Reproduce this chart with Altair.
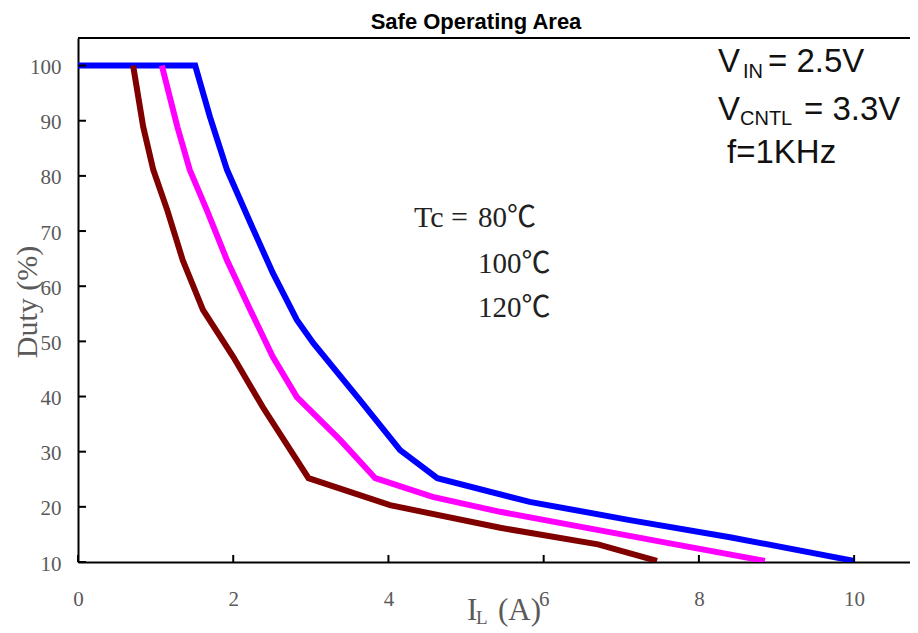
import altair as alt
import pandas as pd

# ---- data ----
series_names = ["80C", "100C", "120C"]
series_colors = ["#0000FF", "#FF00FF", "#800000"]

blue_x = [0, 1.51, 1.70, 1.92, 2.22, 2.51, 2.82, 3.03, 3.63, 4.15, 4.63, 5.82, 7.11, 8.40, 10.0]
blue_y = [100, 100, 90.7, 81.1, 71.5, 62.4, 53.9, 49.7, 39.4, 30.3, 25.2, 20.9, 17.6, 14.5, 10.2]

mag_x = [1.08, 1.28, 1.44, 1.66, 1.92, 2.22, 2.51, 2.82, 3.38, 3.83, 4.57, 5.44, 7.54, 8.85]
mag_y = [100, 88.9, 81.1, 73.8, 64.7, 55.7, 47.2, 39.9, 32.1, 25.2, 21.8, 19.1, 13.6, 10.2]

brown_x = [0.71, 0.84, 0.97, 1.15, 1.35, 1.61, 2.0, 2.38, 2.97, 4.02, 5.44, 6.70, 7.46]
brown_y = [100, 88.9, 81.1, 73.8, 64.7, 55.7, 47.2, 38.1, 25.2, 20.3, 16.2, 13.2, 10.2]

x_ticks = [0, 2, 4, 6, 8, 10]
y_ticks = [10, 20, 30, 40, 50, 60, 70, 80, 90, 100]

W, H = 832, 524
X_DOMAIN = [0, 10.72]
Y_DOMAIN = [10, 105]

rows = []
for name, xs, ys in zip(series_names, [blue_x, mag_x, brown_x], [blue_y, mag_y, brown_y]):
    for i, (a, b) in enumerate(zip(xs, ys)):
        rows.append({"series": name, "x": a, "y": b, "i": i})
df = pd.DataFrame(rows)

xscale = alt.Scale(domain=X_DOMAIN, nice=False, zero=False)
yscale = alt.Scale(domain=Y_DOMAIN, nice=False, zero=False)

serif = "Liberation Serif, Times New Roman, Noto Sans CJK SC"
sans = "Liberation Sans, Arial"
label_gray = "#5a5a5a"

base = alt.Chart(df)

lines = base.mark_line(strokeWidth=6, clip=True).encode(
    x=alt.X("x:Q", scale=xscale,
            axis=alt.Axis(values=x_ticks, title=None, grid=False, ticks=False,
                          labelFont=serif, labelFontSize=21, labelColor=label_gray,
                          labelPadding=26, labelFlush=False, domainColor="black",
                          domainWidth=2, format="d")),
    y=alt.Y("y:Q", scale=yscale,
            axis=alt.Axis(values=y_ticks, title=None, grid=False, ticks=False,
                          labelFont=serif, labelFontSize=21, labelColor=label_gray,
                          labelPadding=17, labelFlush=False, labelOffset=2,
                          domainColor="black", domainWidth=2, format="d")),
    color=alt.Color("series:N", scale=alt.Scale(domain=series_names, range=series_colors),
                    legend=None),
    detail="series:N",
    order="i:Q",
)

xt = alt.Chart(pd.DataFrame({"t": x_ticks})).mark_rule(color="black", strokeWidth=2).encode(
    x=alt.X("t:Q", scale=xscale), y=alt.value(H), y2=alt.value(H - 7))
yt = alt.Chart(pd.DataFrame({"t": y_ticks})).mark_rule(color="black", strokeWidth=2).encode(
    y=alt.Y("t:Q", scale=yscale), x=alt.value(0), x2=alt.value(8))

top_rule = alt.Chart(pd.DataFrame({"a": [0]})).mark_rule(color="black", strokeWidth=2).encode(
    x=alt.value(0), x2=alt.value(W), y=alt.value(0))


def txt(s, x, y, size, font=serif, color="#222", align="left", weight="normal", angle=0, baseline="alphabetic"):
    kw = dict(text=s, fontSize=size, font=font, color=color, align=align,
              fontWeight=weight, baseline=baseline)
    if angle:
        kw["angle"] = angle
    return alt.Chart(pd.DataFrame({"a": [0]})).mark_text(**kw).encode(
        x=alt.value(x), y=alt.value(y))


texts = [
    txt("Safe Operating Area", 398, -9, 22, font=sans, color="black", align="center", weight="bold"),
    txt("Duty (%)", -50, 264, 30, color=label_gray, align="center", angle=270, baseline="middle"),
    txt("I", 389, 582, 31, color=label_gray),
    txt("L", 398, 586, 19, color=label_gray),
    txt("(A)", 420, 582, 31, color=label_gray),
    txt("Tc =", 390, 189, 30, color="#222", align="right"),
    txt("80℃", 400, 189, 29, color="#222"),
    txt("100℃", 400, 235, 29, color="#222"),
    txt("120℃", 400, 279, 29, color="#222"),
    txt("V", 640, 34, 33, font=sans, color="#111"),
    txt("IN", 665, 40, 20, font=sans, color="#111"),
    txt("= 2.5V", 690, 34, 33, font=sans, color="#111"),
    txt("V", 640, 82, 33, font=sans, color="#111"),
    txt("CNTL", 662, 87, 20, font=sans, color="#111"),
    txt("= 3.3V", 726, 82, 33, font=sans, color="#111"),
    txt("f=1KHz", 649, 125, 33, font=sans, color="#111"),
]

chart = alt.layer(lines, xt, yt, top_rule, *texts).properties(
    width=W, height=H,
    autosize=alt.AutoSizeParams(type="none"),
    padding={"left": 70, "top": 30, "right": 0, "bottom": 70},
).configure_view(stroke=None).configure(background="white")

chart.save("out.html", embed_options={"renderer": "svg", "actions": False})
